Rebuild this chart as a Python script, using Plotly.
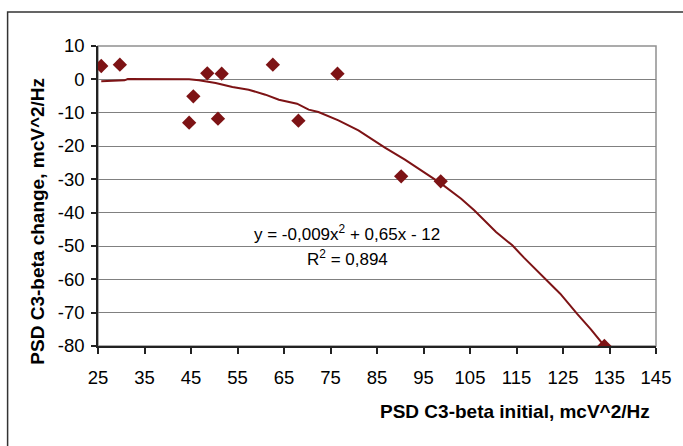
import plotly.graph_objects as go

# Scatter data
x_pts = [25.7, 29.7, 44.6, 45.5, 48.5, 50.8, 51.6, 62.6, 68.1, 76.5, 90.2, 98.7, 133.9]
y_pts = [4.0, 4.4, -13.0, -5.1, 1.8, -11.8, 1.7, 4.4, -12.4, 1.7, -29.1, -30.6, -80.0]

# Trend line as drawn
x_line = [25.7, 30.7, 31.4, 44.6, 46.7, 48.2, 50.3, 53.9, 57.4, 61.0, 63.9, 67.8,
          70.3, 72.4, 76.7, 81.0, 86.7, 91.0, 94.8, 98.8, 103.1, 105.9,
          110.6, 114.1, 116.6, 120.9, 124.4, 128.0, 131.0, 133.9]
y_line = [-0.6, -0.3, 0.1, 0.0, -0.3, -0.6, -1.1, -2.3, -3.1, -4.6, -6.1, -7.3,
          -9.1, -9.8, -12.3, -15.3, -20.5, -24.1, -27.6, -31.3, -35.8, -39.3,
          -45.8, -49.8, -53.5, -59.3, -64.3, -70.3, -75.0, -80.0]

x_ticks = [25, 35, 45, 55, 65, 75, 85, 95, 105, 115, 125, 135, 145]
y_ticks = [10, 0, -10, -20, -30, -40, -50, -60, -70, -80]

x_title = "PSD C3-beta initial, mcV^2/Hz"
y_title = "PSD C3-beta change, mcV^2/Hz"
eq_text = "y = -0,009x<sup>2</sup> + 0,65x - 12"
r2_text = "R<sup>2</sup> = 0,894"

RED = "#7d1315"
FONT = "Liberation Sans, Arial, sans-serif"

fig = go.Figure()
fig.add_trace(go.Scatter(x=x_line, y=y_line, mode="lines",
                         line=dict(color=RED, width=2), hoverinfo="skip"))
fig.add_trace(go.Scatter(x=x_pts, y=y_pts, mode="markers",
                         marker=dict(symbol="diamond", size=11, color=RED)))

fig.update_layout(
    width=683, height=446,
    margin=dict(l=98, r=24, t=46, b=100),
    paper_bgcolor="white", plot_bgcolor="white",
    showlegend=False,
    font=dict(family=FONT, size=18.5, color="black"),
    xaxis=dict(range=[25, 145], tickvals=x_ticks, ticktext=[str(v) for v in x_ticks],
               showgrid=False, zeroline=False, showline=True, linecolor="#222",
               linewidth=1.5, ticks="outside", ticklen=6, tickcolor="#222",
               tickwidth=1.5, ticklabelstandoff=8),
    yaxis=dict(range=[-80, 10], tickvals=y_ticks, ticktext=[str(v) for v in y_ticks],
               showgrid=True, gridcolor="#808080", gridwidth=1, zeroline=False,
               showline=True, linecolor="#222", linewidth=1.5, ticks="outside",
               ticklen=5, tickcolor="#222", tickwidth=1.5, ticklabelstandoff=3),
)

# plot area border (top/right gray)
fig.add_shape(type="rect", xref="paper", yref="paper", x0=0, x1=1, y0=0, y1=1,
              line=dict(color="#909090", width=1.5), layer="below")
# outer chart border
fig.add_shape(type="rect", xref="paper", yref="paper", x0=-0.162, x1=1.2, y0=-0.5, y1=1.113,
              line=dict(color="#333", width=1.5), layer="below")

fig.add_annotation(xref="paper", yref="paper", x=0.747, y=-0.219, text="<b>" + x_title + "</b>",
                   showarrow=False, font=dict(size=19), xanchor="center", yanchor="middle")
fig.add_annotation(xref="paper", yref="paper", x=-0.108, y=0.417, text="<b>" + y_title + "</b>",
                   showarrow=False, font=dict(size=19), textangle=-90,
                   xanchor="center", yanchor="middle")
fig.add_annotation(xref="paper", yref="paper", x=0.447, y=0.377, text=eq_text,
                   showarrow=False, font=dict(size=17), xanchor="center", yanchor="middle")
fig.add_annotation(xref="paper", yref="paper", x=0.447, y=0.293, text=r2_text,
                   showarrow=False, font=dict(size=17), xanchor="center", yanchor="middle")

fig.write_html("out.html")
